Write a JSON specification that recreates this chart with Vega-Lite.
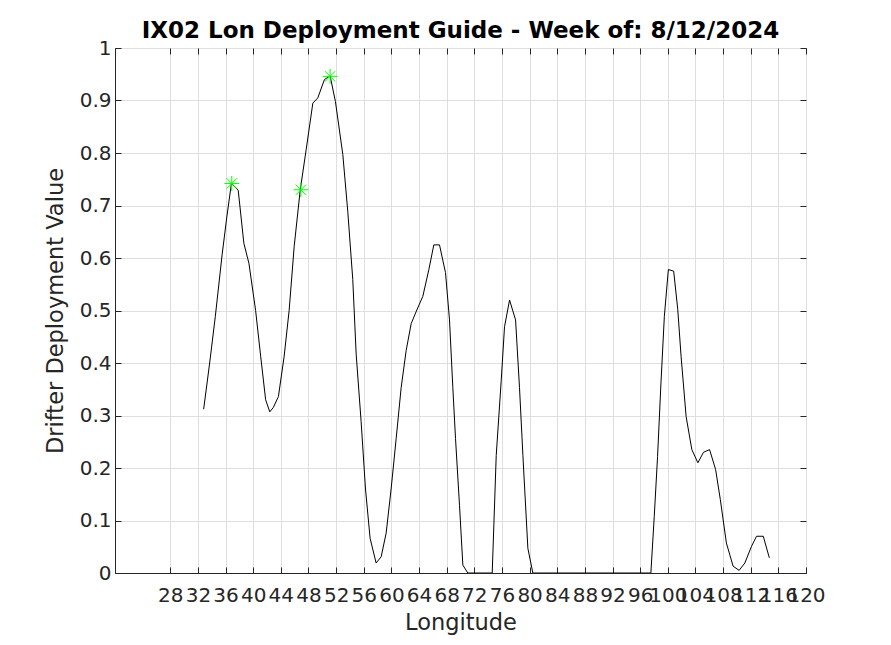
{
  "$schema": "https://vega.github.io/schema/vega-lite/v6.json",
  "width": 691,
  "height": 525,
  "autosize": {"type": "none"},
  "padding": {"left": 115, "top": 48, "right": 85, "bottom": 72},
  "background": "white",
  "view": {"stroke": "#262626", "strokeWidth": 1},
  "config": {
    "font": "DejaVu Sans",
    "axis": {"labelFont": "DejaVu Sans", "titleFont": "DejaVu Sans", "labelColor": "#262626", "titleColor": "#262626", "domainColor": "#262626", "tickColor": "#262626", "gridColor": "#dfdfdf", "gridWidth": 1, "titleFontWeight": "normal"}
  },
  "title": {"text": "IX02 Lon Deployment Guide - Week of: 8/12/2024", "fontSize": 23, "fontWeight": "bold", "font": "DejaVu Sans", "color": "#000000", "anchor": "middle", "offset": -5},
  "datasets": {
    "curve": [
      {"lon": 32.83, "val": 0.312},
      {"lon": 33.7, "val": 0.40},
      {"lon": 34.52, "val": 0.489},
      {"lon": 35.5, "val": 0.606},
      {"lon": 36.2, "val": 0.68},
      {"lon": 36.85, "val": 0.742},
      {"lon": 37.83, "val": 0.729},
      {"lon": 38.65, "val": 0.628},
      {"lon": 39.38, "val": 0.59},
      {"lon": 40.35, "val": 0.5},
      {"lon": 41.08, "val": 0.413},
      {"lon": 41.8, "val": 0.33},
      {"lon": 42.4, "val": 0.307},
      {"lon": 42.9, "val": 0.315},
      {"lon": 43.65, "val": 0.336},
      {"lon": 44.48, "val": 0.413},
      {"lon": 45.2, "val": 0.5},
      {"lon": 45.93, "val": 0.622},
      {"lon": 46.8, "val": 0.729},
      {"lon": 47.66, "val": 0.806},
      {"lon": 48.63, "val": 0.895},
      {"lon": 49.35, "val": 0.905},
      {"lon": 50.31, "val": 0.94},
      {"lon": 51.13, "val": 0.947},
      {"lon": 51.9, "val": 0.898},
      {"lon": 52.97, "val": 0.797},
      {"lon": 53.69, "val": 0.688},
      {"lon": 54.41, "val": 0.559},
      {"lon": 54.9, "val": 0.417},
      {"lon": 55.62, "val": 0.288},
      {"lon": 56.25, "val": 0.16},
      {"lon": 56.92, "val": 0.066},
      {"lon": 57.79, "val": 0.019},
      {"lon": 58.52, "val": 0.031},
      {"lon": 59.24, "val": 0.076},
      {"lon": 59.96, "val": 0.16},
      {"lon": 60.69, "val": 0.256},
      {"lon": 61.41, "val": 0.353},
      {"lon": 62.14, "val": 0.424},
      {"lon": 62.86, "val": 0.475},
      {"lon": 63.68, "val": 0.501},
      {"lon": 64.55, "val": 0.527},
      {"lon": 65.42, "val": 0.578},
      {"lon": 66.14, "val": 0.625},
      {"lon": 66.96, "val": 0.625},
      {"lon": 67.83, "val": 0.572},
      {"lon": 68.41, "val": 0.482},
      {"lon": 68.89, "val": 0.353},
      {"lon": 69.28, "val": 0.256},
      {"lon": 69.86, "val": 0.128},
      {"lon": 70.34, "val": 0.015},
      {"lon": 71.06, "val": 0.0},
      {"lon": 74.59, "val": 0.0},
      {"lon": 75.17, "val": 0.224},
      {"lon": 75.89, "val": 0.366},
      {"lon": 76.37, "val": 0.469},
      {"lon": 77.1, "val": 0.52},
      {"lon": 77.97, "val": 0.482},
      {"lon": 78.54, "val": 0.353},
      {"lon": 79.03, "val": 0.224},
      {"lon": 79.75, "val": 0.047},
      {"lon": 80.47, "val": 0.0},
      {"lon": 97.55, "val": 0.0},
      {"lon": 98.04, "val": 0.108},
      {"lon": 98.52, "val": 0.222},
      {"lon": 99.01, "val": 0.362},
      {"lon": 99.5, "val": 0.489},
      {"lon": 100.08, "val": 0.578},
      {"lon": 100.85, "val": 0.575},
      {"lon": 101.44, "val": 0.502},
      {"lon": 101.92, "val": 0.413},
      {"lon": 102.65, "val": 0.298},
      {"lon": 103.48, "val": 0.235},
      {"lon": 104.35, "val": 0.21},
      {"lon": 105.17, "val": 0.23},
      {"lon": 106.05, "val": 0.235},
      {"lon": 106.92, "val": 0.197},
      {"lon": 107.6, "val": 0.14},
      {"lon": 108.48, "val": 0.057},
      {"lon": 109.45, "val": 0.013},
      {"lon": 110.32, "val": 0.005},
      {"lon": 111.15, "val": 0.019},
      {"lon": 112.12, "val": 0.051},
      {"lon": 112.84, "val": 0.07},
      {"lon": 113.82, "val": 0.07},
      {"lon": 114.69, "val": 0.029}
    ],
    "peaks": [
      {"lon": 36.9, "val": 0.742},
      {"lon": 46.9, "val": 0.73},
      {"lon": 51.13, "val": 0.946}
    ]
  },
  "layer": [
    {
      "data": {"name": "curve"},
      "mark": {"type": "line", "color": "#000000", "strokeWidth": 1, "clip": true},
      "encoding": {
        "x": {"field": "lon", "type": "quantitative", "scale": {"domain": [20, 120], "nice": false, "zero": false},
          "axis": {"title": "Longitude", "titleFontSize": 22.5, "titlePadding": 6, "labelFontSize": 20, "values": [28,32,36,40,44,48,52,56,60,64,68,72,76,80,84,88,92,96,100,104,108,112,116,120], "labelOverlap": false, "labelBound": false, "labelFlush": false, "tickSize": -6, "labelPadding": 18, "grid": true, "domain": true}},
        "y": {"field": "val", "type": "quantitative", "scale": {"domain": [0, 1], "nice": false},
          "axis": {"title": "Drifter Deployment Value", "titleFontSize": 22.5, "titlePadding": 12, "labelFontSize": 20, "values": [0,0.1,0.2,0.3,0.4,0.5,0.6,0.7,0.8,0.9,1], "format": "~g", "labelOverlap": false, "labelBound": false, "labelFlush": false, "tickSize": -6, "labelPadding": 10, "grid": true, "domain": true}}
      }
    },
    {
      "data": {"name": "peaks"},
      "mark": {"type": "point", "shape": "M-1,0L1,0M0,-1L0,1M-0.7,-0.7L0.7,0.7M-0.7,0.7L0.7,-0.7", "filled": false, "stroke": "#00ff00", "strokeWidth": 1, "size": 220, "opacity": 1},
      "encoding": {
        "x": {"field": "lon", "type": "quantitative", "scale": {"domain": [20, 120], "nice": false, "zero": false},
          "axis": {"orient": "top", "title": null, "labels": false, "grid": false, "domain": false, "tickSize": -6, "values": [28,32,36,40,44,48,52,56,60,64,68,72,76,80,84,88,92,96,100,104,108,112,116,120]}},
        "y": {"field": "val", "type": "quantitative", "scale": {"domain": [0, 1], "nice": false},
          "axis": {"orient": "right", "title": null, "labels": false, "grid": false, "domain": false, "tickSize": -6, "values": [0,0.1,0.2,0.3,0.4,0.5,0.6,0.7,0.8,0.9,1]}}
      }
    }
  ],
  "resolve": {"axis": {"x": "independent", "y": "independent"}}
}
